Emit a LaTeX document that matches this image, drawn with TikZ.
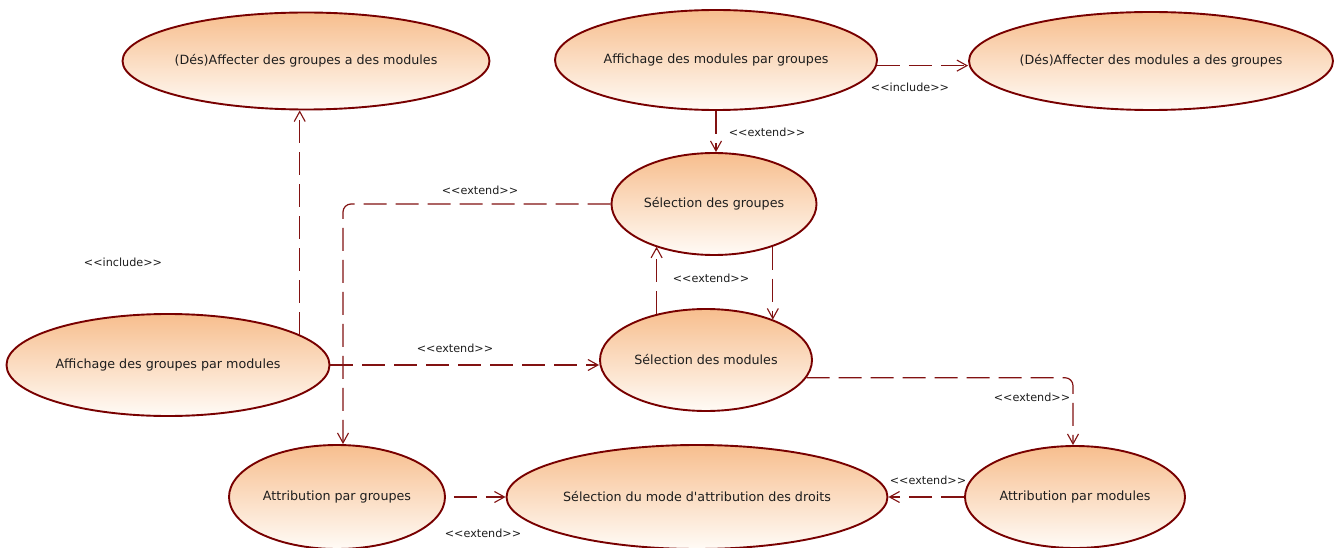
\documentclass[tikz,border=0pt]{standalone}
\usepackage{fontspec}
\setmainfont{DejaVu Sans}
\newfontfamily\ucf{DejaVu Sans}
\usetikzlibrary{shapes.geometric,arrows.meta}
\definecolor{ucborder}{RGB}{120,0,0}
\definecolor{uctop}{RGB}{247,190,142}
\definecolor{ucbot}{RGB}{255,251,246}
\definecolor{conn}{RGB}{130,18,18}
\definecolor{txt}{RGB}{30,30,30}
\begin{document}
\begin{tikzpicture}[x=1pt,y=-1pt,
  uc/.style={ellipse, draw=ucborder, line width=1.9pt, top color=uctop, bottom color=ucbot,
    inner sep=0pt, inner xsep=-40pt, font=\ucf\fontsize{12.7}{15}\selectfont, text=txt},
  rel/.style={draw=conn, line width=1.2pt, dash pattern=on 23pt off 9pt,
    -{Straight Barb[length=10pt,width=11pt,line width=1.1pt]}},
  lbl/.style={font=\ucf\fontsize{11.2}{13}\selectfont, text=txt, inner sep=0pt}]
\useasboundingbox[fill=white] (0,0) rectangle (1341,548);

% use cases
\node[uc, minimum width=367pt, minimum height=97pt] (A1) at (306,61) {(Dés)Affecter des groupes a des modules};
\node[uc, minimum width=322pt, minimum height=100pt] (A2) at (716,60) {Affichage des modules par groupes};
\node[uc, minimum width=364pt, minimum height=98pt] (A3) at (1151,61) {(Dés)Affecter des modules a des groupes};
\node[uc, minimum width=205pt, minimum height=102pt] (SG) at (714,204) {Sélection des groupes};
\node[uc, minimum width=212pt, minimum height=102pt] (SM) at (706,360) {Sélection des modules};
\node[uc, minimum width=323pt, minimum height=102pt] (AGM) at (168,365) {Affichage des groupes par modules};
\node[uc, minimum width=216pt, minimum height=104pt] (AG) at (337,497) {Attribution par groupes};
\node[uc, minimum width=381pt, minimum height=104pt] (SMA) at (697,497) {Sélection du mode d'attribution des droits};
\node[uc, minimum width=220pt, minimum height=102pt] (AM) at (1075,497) {Attribution par modules};

% connectors
\draw[rel] (AGM.13) -- (AGM.13 |- A1.south);
\draw[rel] (A2.-2.5) -- (A2.-2.5 -| A3.west);
\draw[rel] (A2.south) -- (A2.south |- SG.north);
\draw[rel, rounded corners=8pt] (SG.west) -| ([xshift=6pt]AG.north);
\draw[rel] (AGM.east) -- (AGM.east -| SM.west);
\draw[rel] (SM.137) -- (SM.137 |- SG.216.6);
\draw[rel] (SG.-36) -- (SG.-36 |- SM.31);
\draw[rel, rounded corners=8pt] (SM.-10) -| ([xshift=-2pt]AM.north);
\coordinate (AGout) at ([xshift=8pt]AG.east);
\draw[rel] (AGout) -- (SMA.west);
\draw[rel] (AM.west) -- (SMA.east);

% labels
\node[lbl] (l1) at (123,262) {<<include>>};
\node[lbl] (l2) at (910,87) {<<include>>};
\node[lbl] (l3) at (767,132) {<<extend>>};
\node[lbl] (l4) at (480,190) {<<extend>>};
\node[lbl] (l5) at (711,278) {<<extend>>};
\node[lbl] (l6) at (455,348) {<<extend>>};
\node[lbl] (l7) at (1032,397) {<<extend>>};
\node[lbl] (l8) at (928,480) {<<extend>>};
\node[lbl] (l9) at (483,533) {<<extend>>};
\end{tikzpicture}
\end{document}
